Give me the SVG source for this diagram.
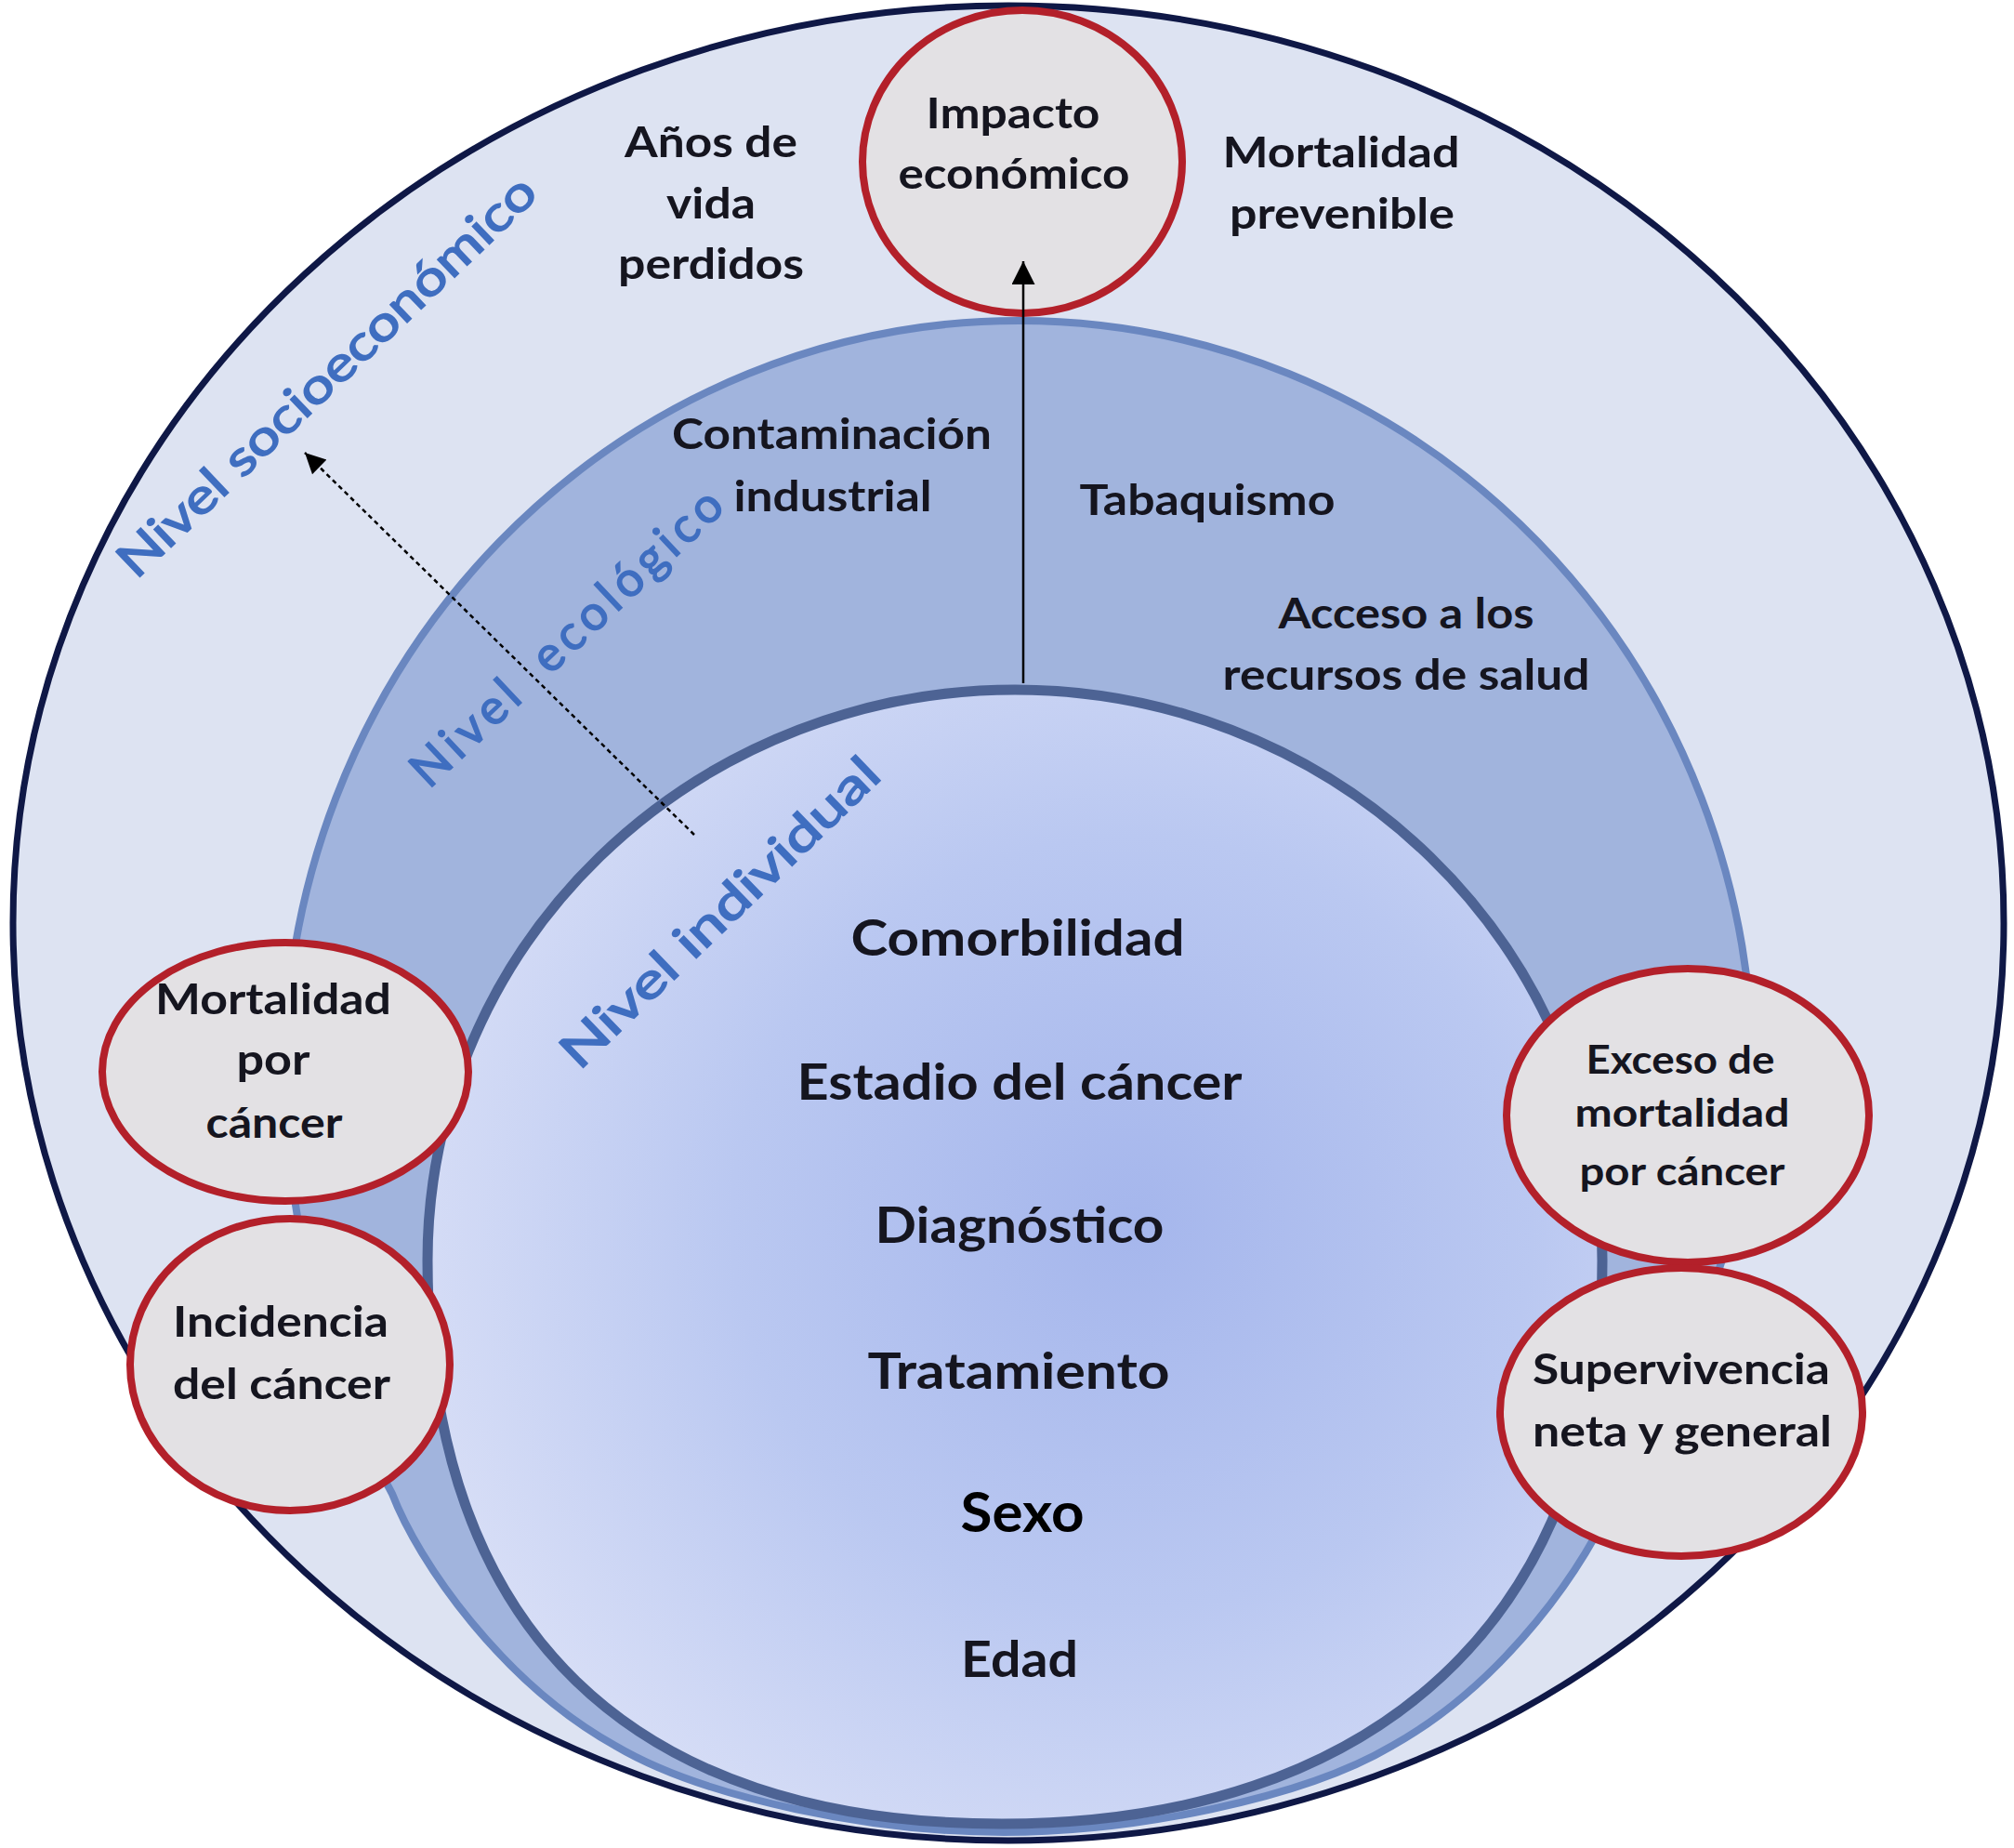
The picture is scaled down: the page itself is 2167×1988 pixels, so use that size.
<svg xmlns="http://www.w3.org/2000/svg" width="2167" height="1988" viewBox="0 0 2167 1988">
<defs>
<radialGradient id="gInner" cx="0.6" cy="0.47" r="0.62" fx="0.6" fy="0.47">
<stop offset="0" stop-color="#a5b6ec"/>
<stop offset="0.55" stop-color="#bac8f1"/>
<stop offset="1" stop-color="#d6ddf6"/>
</radialGradient>
<marker id="ah" viewBox="0 0 10 10" refX="10" refY="5" markerWidth="26" markerHeight="25" markerUnits="userSpaceOnUse" orient="auto"><path d="M0,0 L10,5 L0,10 z" fill="#000"/></marker>
<marker id="ah2" viewBox="0 0 10 10" refX="10" refY="5" markerWidth="24" markerHeight="22" markerUnits="userSpaceOnUse" orient="auto"><path d="M0,0 L10,5 L0,10 z" fill="#000"/></marker>
</defs>
<style>
.t{font-family:Lato,"Liberation Sans",sans-serif;font-weight:700;fill:#15151f;text-anchor:middle}
.s45{font-size:45px}
.s42{font-size:42px}
.s54{font-size:54px}
.lvl{font-family:Lato,"Liberation Sans",sans-serif;font-weight:400;fill:#3f6ec0;stroke:#3f6ec0;stroke-width:1.6;font-size:52px;text-anchor:middle;dominant-baseline:central}
.red{fill:#e3e1e4;stroke:#b3202a;stroke-width:8}
</style>
<rect width="2167" height="1988" fill="#ffffff"/>
<g id="nivel-socioeconomico">
<ellipse cx="1085" cy="993" rx="1071" ry="987" fill="#dde3f2" stroke="#0f1846" stroke-width="7"/>
</g>
<g id="nivel-ecologico">
<path d="M306,1157 A790,812 0 0 1 1886,1157 C1886,1350 1780,1530 1738,1607 C1710,1680 1620,1810 1498,1878 C1400,1936 1216,1971 1080,1971 C944,1971 760,1936 662,1878 C540,1810 450,1680 422,1607 C380,1530 306,1350 306,1157 Z" fill="#a1b4dd" stroke="#6a87c0" stroke-width="8"/>
</g>
<g id="nivel-individual">
<path d="M460,1356 A632,614 0 0 1 1724,1356 C1724,1740 1480,1962 1078,1962 C681,1962 460,1755 460,1356 Z" fill="url(#gInner)" stroke="#4d6394" stroke-width="11"/>
</g>
<g id="labels-niveles">
<text class="lvl" transform="translate(350,403) rotate(-43.6)" textLength="600" lengthAdjust="spacingAndGlyphs">Nivel socioeconómico</text>
<text class="lvl" transform="translate(608,684) rotate(-43.3)" textLength="440" lengthAdjust="spacing" word-spacing="14">Nivel ecológico</text>
<text class="lvl" transform="translate(773,980) rotate(-44)" textLength="455" lengthAdjust="spacingAndGlyphs">Nivel individual</text>
</g>
<g id="anos-vida">
<text class="t s45" x="765" y="169" textLength="186" lengthAdjust="spacingAndGlyphs">Años de</text>
<text class="t s45" x="765" y="235" textLength="96" lengthAdjust="spacingAndGlyphs">vida</text>
<text class="t s45" x="765" y="300" textLength="200" lengthAdjust="spacingAndGlyphs">perdidos</text>
</g>
<g id="mortalidad-prevenible">
<text class="t s45" x="1443" y="180" textLength="255" lengthAdjust="spacingAndGlyphs">Mortalidad</text>
<text class="t s45" x="1444" y="246" textLength="242" lengthAdjust="spacingAndGlyphs">prevenible</text>
</g>
<g id="contaminacion">
<text class="t s45" x="895" y="483" textLength="344" lengthAdjust="spacingAndGlyphs">Contaminación</text>
<text class="t s45" x="896" y="550" textLength="213" lengthAdjust="spacingAndGlyphs">industrial</text>
</g>
<g id="tabaquismo">
<text class="t s45" x="1299" y="554" textLength="275" lengthAdjust="spacingAndGlyphs">Tabaquismo</text>
</g>
<g id="acceso">
<text class="t s45" x="1513" y="676" textLength="275" lengthAdjust="spacingAndGlyphs">Acceso a los</text>
<text class="t s45" x="1513" y="742" textLength="395" lengthAdjust="spacingAndGlyphs">recursos de salud</text>
</g>
<g id="individual-factores">
<text class="t s54" x="1095" y="1028" textLength="359" lengthAdjust="spacingAndGlyphs">Comorbilidad</text>
<text class="t s54" x="1097" y="1183" textLength="479" lengthAdjust="spacingAndGlyphs">Estadio del cáncer</text>
<text class="t s54" x="1097" y="1337" textLength="311" lengthAdjust="spacingAndGlyphs">Diagnóstico</text>
<text class="t s54" x="1096" y="1494" textLength="325" lengthAdjust="spacingAndGlyphs">Tratamiento</text>
<text class="t" x="1100" y="1648" style="font-size:60px;fill:#000" textLength="133" lengthAdjust="spacingAndGlyphs">Sexo</text>
<text class="t s54" x="1097" y="1804" textLength="126" lengthAdjust="spacingAndGlyphs">Edad</text>
</g>
<g id="impacto-economico">
<ellipse class="red" cx="1100" cy="174" rx="172" ry="163"/>
<text class="t s45" x="1090" y="138" textLength="187" lengthAdjust="spacingAndGlyphs">Impacto</text>
<text class="t s45" x="1091" y="203" textLength="249" lengthAdjust="spacingAndGlyphs">económico</text>
</g>
<g id="mortalidad-cancer">
<ellipse class="red" cx="307" cy="1153" rx="197" ry="139"/>
<text class="t s45" x="294" y="1091" textLength="254" lengthAdjust="spacingAndGlyphs">Mortalidad</text>
<text class="t s45" x="294" y="1156" textLength="79" lengthAdjust="spacingAndGlyphs">por</text>
<text class="t s45" x="295" y="1224" textLength="147" lengthAdjust="spacingAndGlyphs">cáncer</text>
</g>
<g id="incidencia-cancer">
<ellipse class="red" cx="312" cy="1468" rx="172" ry="157"/>
<text class="t s45" x="302" y="1438" textLength="232" lengthAdjust="spacingAndGlyphs">Incidencia</text>
<text class="t s45" x="303" y="1505" textLength="234" lengthAdjust="spacingAndGlyphs">del cáncer</text>
</g>
<g id="exceso-mortalidad">
<ellipse class="red" cx="1816" cy="1200" rx="195" ry="158"/>
<text class="t s42" x="1808" y="1155" textLength="203" lengthAdjust="spacingAndGlyphs">Exceso de</text>
<text class="t s42" x="1810" y="1212" textLength="231" lengthAdjust="spacingAndGlyphs">mortalidad</text>
<text class="t s42" x="1810" y="1275" textLength="221" lengthAdjust="spacingAndGlyphs">por cáncer</text>
</g>
<g id="supervivencia">
<ellipse class="red" cx="1809" cy="1519" rx="195" ry="155"/>
<text class="t s45" x="1809" y="1489" textLength="320" lengthAdjust="spacingAndGlyphs">Supervivencia</text>
<text class="t s45" x="1810" y="1556" textLength="322" lengthAdjust="spacingAndGlyphs">neta y general</text>
</g>
<g id="connectors">
<line x1="1101" y1="735" x2="1101" y2="281" stroke="#000" stroke-width="2.5" marker-end="url(#ah)"/>
<line x1="747" y1="898" x2="328" y2="487" stroke="#000" stroke-width="2.5" stroke-dasharray="5 4" marker-end="url(#ah2)"/>
</g>
</svg>
